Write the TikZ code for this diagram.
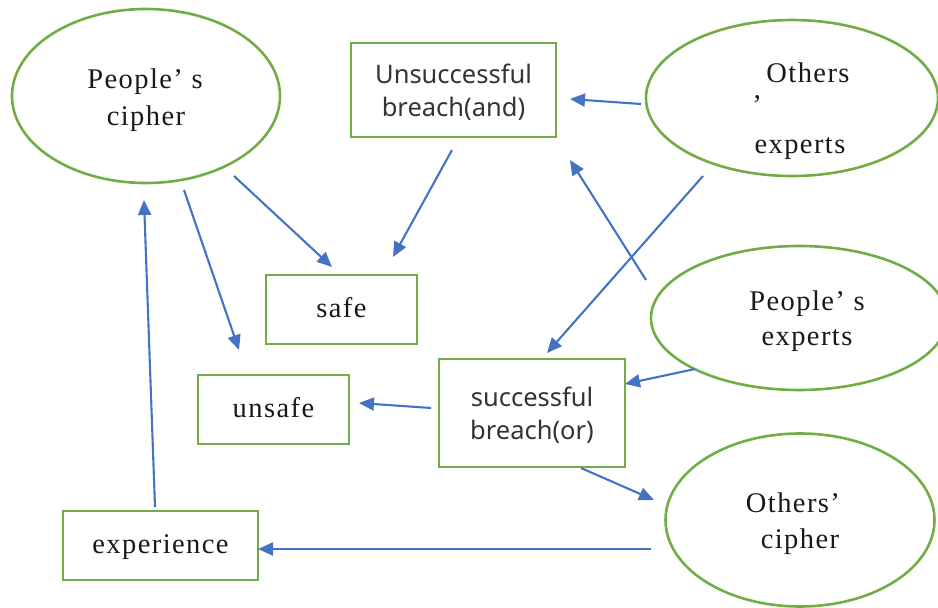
\documentclass[tikz,border=0pt]{standalone}
\usepackage{fontspec}
\setmainfont{Liberation Serif}[LetterSpace=5]
\newfontfamily\boxsans{Noto Sans}
\usetikzlibrary{shapes.geometric,arrows.meta}
\definecolor{grn}{HTML}{70AD47}
\definecolor{blu}{HTML}{4472C4}
\begin{document}
\begin{tikzpicture}[x=1pt,y=-1pt,
 oval/.style={ellipse,draw=grn,line width=2.6pt,inner sep=0pt},
 box/.style={rectangle,draw=grn,line width=2.6pt,inner sep=0pt},
 mono/.style={font=\fontsize{28.5}{32}\selectfont,text=black!90,anchor=base},
 monobox/.style={box,font=\fontsize{28.5}{32}\selectfont,text=black!90,text height=18pt,text depth=2pt},
 sansbox/.style={box,font=\boxsans\fontsize{25.5}{33}\selectfont,text=black!80,align=center},
 arr/.style={draw=blu,line width=2.1pt,-{Triangle[length=15pt,width=13pt]}}]
\useasboundingbox (0,0) rectangle (938,608);
\clip (0,0) rectangle (938,608);
% ellipses
\node[oval,minimum width=268pt,minimum height=174pt] (pc) at (146,96) {};
\node[oval,minimum width=292pt,minimum height=156pt] (oe) at (792,98) {};
\node[oval,minimum width=296pt,minimum height=144pt] (pe) at (799,318) {};
\node[oval,minimum width=269pt,minimum height=173pt] (oc) at (800,520) {};
% ellipse labels
\node[mono] (pc1) at (145,88) {People’ s};
\node[mono] (pc2) at (146,125) {cipher};
\node[mono] (oe1) at (808,82) {Others};
\node[mono] (oe2) at (757,114) {’};
\node[mono] (oe3) at (800,153) {experts};
\node[mono] (pe1) at (807,310) {People’ s};
\node[mono] (pe2) at (807,345) {experts};
\node[mono] (oc1) at (793,512) {Others’};
\node[mono] (oc2) at (800,548) {cipher};
% boxes
\node[sansbox,minimum width=205pt,minimum height=94pt] (ub) at (453.5,90) {\rule{0pt}{24pt}Unsuccessful\\breach(and)};
\node[monobox,minimum width=151pt,minimum height=69pt] (safe) at (341.5,309.5) {safe};
\node[monobox,minimum width=151pt,minimum height=69pt] (unsafe) at (273.5,409.5) {unsafe};
\node[sansbox,minimum width=186pt,minimum height=108pt] (sb) at (532,413) {\rule{0pt}{25pt}successful\\breach(or)};
\node[monobox,minimum width=195pt,minimum height=69pt] (exp) at (160.5,545.5) {experience};
% connector ends
\coordinate (a1s) at (234,176);  \coordinate (a1e) at (332,267);
\coordinate (a2s) at (184,190);  \coordinate (a2e) at (239,350);
\coordinate (a3s) at (452,150);  \coordinate (a3e) at (393,257);
\coordinate (a4s) at (641,104);  \coordinate (a4e) at (570,99);
\coordinate (a5s) at (703,176);  \coordinate (a5e) at (547,353);
\coordinate (a6s) at (646,280);  \coordinate (a6e) at (570,160);
\coordinate (a7s) at (695,369);  \coordinate (a7e) at (625,384);
\coordinate (a8s) at (431,408);  \coordinate (a8e) at (359,403);
\coordinate (a9s) at (581,468);  \coordinate (a9e) at (654,500);
\coordinate (a10s) at (651,549); \coordinate (a10e) at (258,549);
\coordinate (a11s) at (155,507); \coordinate (a11e) at (144,200);
\draw[arr] (a1s) -- (a1e);
\draw[arr] (a2s) -- (a2e);
\draw[arr] (a3s) -- (a3e);
\draw[arr] (a4s) -- (a4e);
\draw[arr] (a5s) -- (a5e);
\draw[arr] (a6s) -- (a6e);
\draw[arr] (a7s) -- (a7e);
\draw[arr] (a8s) -- (a8e);
\draw[arr] (a9s) -- (a9e);
\draw[arr] (a10s) -- (a10e);
\draw[arr] (a11s) -- (a11e);
\end{tikzpicture}
\end{document}
